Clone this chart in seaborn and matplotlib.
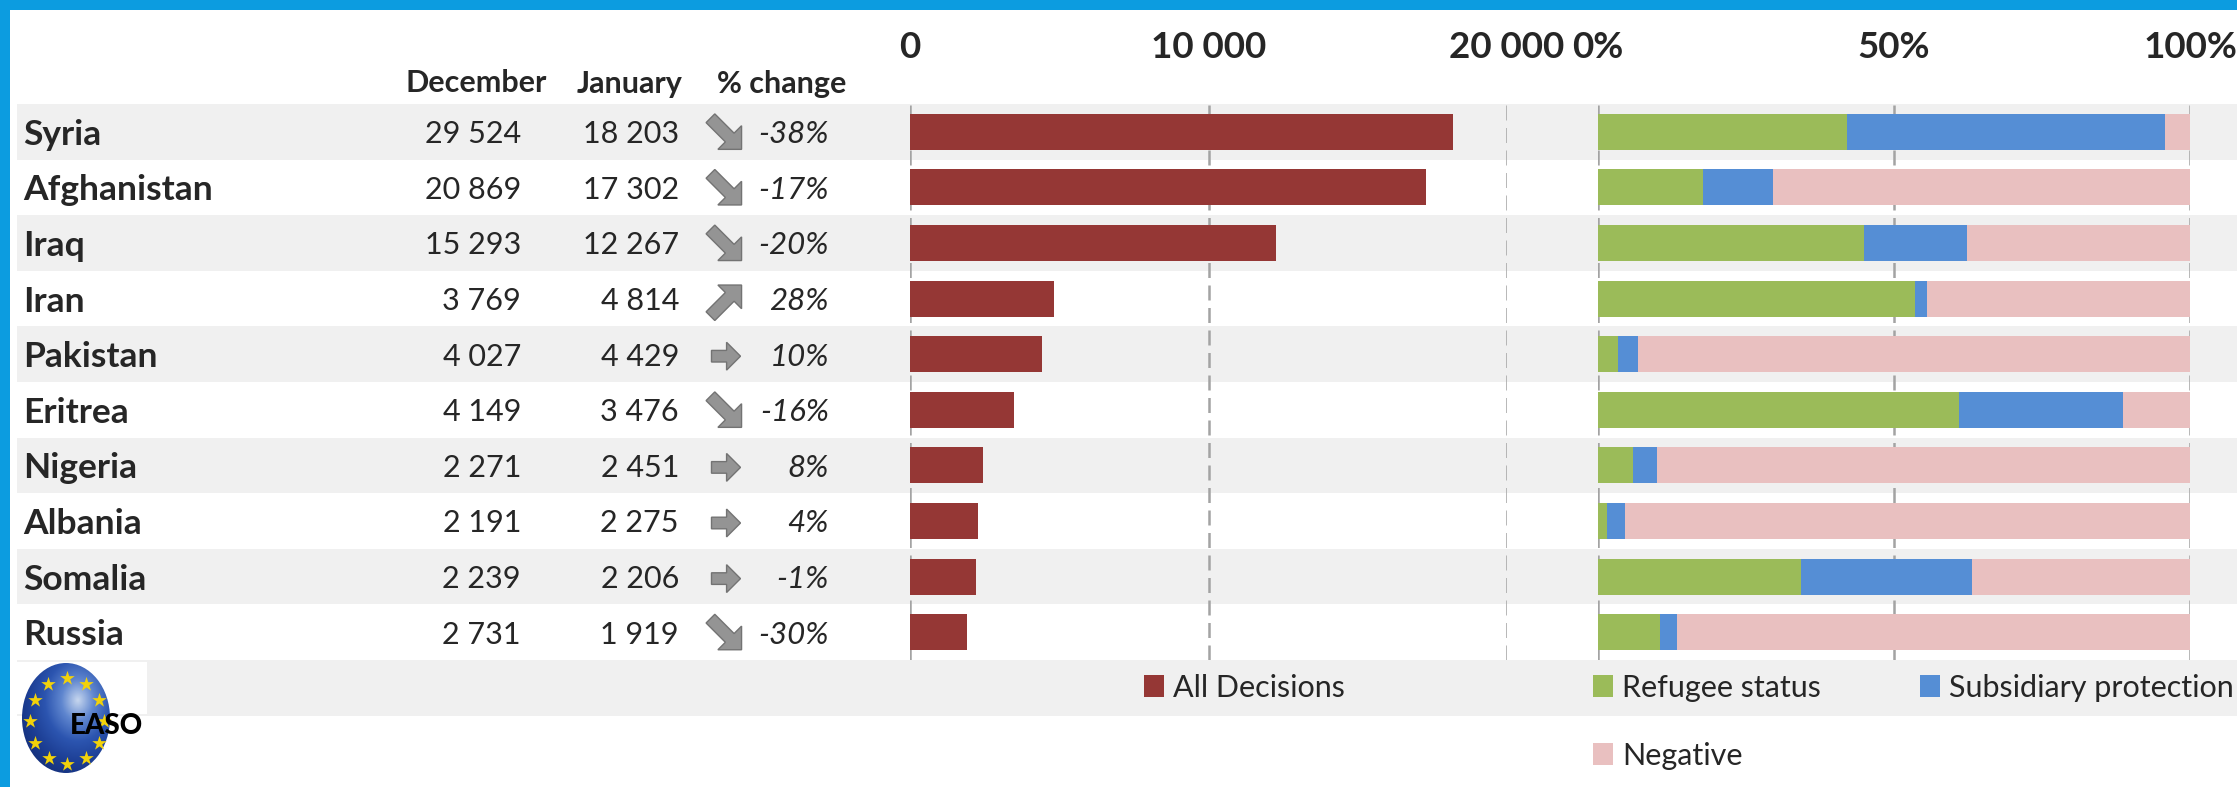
import matplotlib
matplotlib.use("Agg")
import matplotlib.pyplot as plt
from matplotlib import font_manager
from matplotlib.colors import LinearSegmentedColormap
from matplotlib.patches import Ellipse, Polygon, Rectangle
import numpy as np
import seaborn as sns

countries = ["Syria", "Afghanistan", "Iraq", "Iran", "Pakistan",
             "Eritrea", "Nigeria", "Albania", "Somalia", "Russia"]
december = [29524, 20869, 15293, 3769, 4027, 4149, 2271, 2191, 2239, 2731]
january = [18203, 17302, 12267, 4814, 4429, 3476, 2451, 2275, 2206, 1919]
pct_change = [-38, -17, -20, 28, 10, -16, 8, 4, -1, -30]

# share of decisions (%)
refugee = [42.1, 17.8, 44.9, 53.5, 3.4, 60.9, 5.9, 1.6, 34.3, 10.5]
subsidiary = [53.7, 11.8, 17.4, 2.1, 3.3, 27.8, 4.1, 2.9, 28.9, 2.9]
negative = [4.2, 70.4, 37.7, 44.4, 93.3, 11.3, 90.0, 95.5, 36.8, 86.6]

left_ticks = [0, 10000, 20000]
left_tick_labels = ["0", "10 000", "20 000"]
right_ticks = [0, 50, 100]
right_tick_labels = ["0%", "50%", "100%"]

RED = "#953735"
GREEN = "#9bbb59"
BLUE = "#558ed5"
PINK = "#e9c0c0"
BAND = "#f0f0f0"
GRID = "#a3a3a3"
FRAME = "#0c9ce0"

sns.set_style("white")
available = {f.name for f in font_manager.fontManager.ttflist}
main_font = "Lato" if "Lato" in available else "DejaVu Sans"
plt.rcParams["font.family"] = [main_font, "DejaVu Sans"]

W, H = 2237, 787
ROW_TOP, ROW_H = 104, 55.6
n = len(countries)
rows_bottom = ROW_TOP + n * ROW_H


def fx(px):
    return px / W


def fy(py):
    return 1 - py / H


def trend_arrow(ax, xc, yc, pct):
    # excel-like block arrow icon, built pointing right then rotated
    if pct <= -15 or pct >= 15:
        shape = np.array([[-0.5, -0.14], [0.12, -0.14], [0.12, -0.38], [0.5, 0],
                          [0.12, 0.38], [0.12, 0.14], [-0.5, 0.14]]) * 44
        ang = np.deg2rad(45 if pct < 0 else -45)
    else:
        shape = np.array([[-0.5, -0.2], [0.02, -0.2], [0.02, -0.48], [0.5, 0],
                          [0.02, 0.48], [0.02, 0.2], [-0.5, 0.2]]) * 29
        ang = 0.0
    rot = np.array([[np.cos(ang), -np.sin(ang)], [np.sin(ang), np.cos(ang)]])
    pts = shape @ rot.T + [xc, yc]
    ax.add_patch(Polygon(pts, closed=True, facecolor="#949494",
                         edgecolor="#737373", lw=1.0, joinstyle="miter"))


fig = plt.figure(figsize=(W / 100, H / 100), dpi=100)

# background layer in pixel coordinates: frame, row bands, table text
bg = fig.add_axes([0, 0, 1, 1], zorder=0)
bg.set_xlim(0, W)
bg.set_ylim(H, 0)
bg.axis("off")

for i in range(0, n + 1, 2):
    y0 = ROW_TOP + i * ROW_H
    bg.add_patch(Rectangle((17, y0), W - 17, ROW_H, color=BAND, lw=0))
bg.add_patch(Rectangle((0, 0), W, 10, color=FRAME, lw=0))
bg.add_patch(Rectangle((0, 0), 10, H, color=FRAME, lw=0))

header_y = 81
bg.text(476, header_y, "December", ha="center", va="center_baseline",
        fontsize=22, fontweight="bold")
bg.text(630, header_y, "January", ha="center", va="center_baseline",
        fontsize=22, fontweight="bold")
bg.text(782, header_y, "% change", ha="center", va="center_baseline",
        fontsize=22, fontweight="bold")

for i, name in enumerate(countries):
    yc = ROW_TOP + (i + 0.5) * ROW_H
    bg.text(23, yc, name, ha="left", va="center_baseline",
            fontsize=25.5, fontweight="bold")
    bg.text(521, yc, f"{december[i]:,}".replace(",", " "), ha="right",
            va="center_baseline", fontsize=22)
    bg.text(679, yc, f"{january[i]:,}".replace(",", " "), ha="right",
            va="center_baseline", fontsize=22)
    trend_arrow(bg, 726, yc + 2, pct_change[i])
    bg.text(829, yc, f"{pct_change[i]}%", ha="right", va="center_baseline",
            fontsize=22.5, style="italic")

# EASO logo
bg.add_patch(Rectangle((17, rows_bottom + 2), 130, 52, color="white", lw=0))
cx, cy, ew, eh = 66, 718, 88, 110
sphere = Ellipse((cx, cy), ew, eh, facecolor="none", lw=0)
bg.add_patch(sphere)
gx, gy = np.meshgrid(np.linspace(cx - ew / 2, cx + ew / 2, 120),
                     np.linspace(cy - eh / 2, cy + eh / 2, 150))
dist = np.hypot((gx - 78) / ew, (gy - 700) / eh)
sphere_cmap = LinearSegmentedColormap.from_list(
    "sphere", ["#c6d6ee", "#5f86cf", "#2c55b0", "#1d3f95", "#142f7a"])
img = bg.imshow(dist, cmap=sphere_cmap, vmin=0, vmax=0.75,
                extent=(cx - ew / 2, cx + ew / 2, cy + eh / 2, cy - eh / 2),
                interpolation="bilinear", zorder=2)
img.set_clip_path(sphere)
bg.set_xlim(0, W)
bg.set_ylim(H, 0)
bg.set_aspect("auto")
ang = np.deg2rad(np.arange(0, 360, 30))
bg.scatter(67 + 37 * np.sin(ang), 721 - 43 * np.cos(ang), marker="*", s=120,
           color="#f2d20a", lw=0, zorder=3)
bg.text(107, 724, "EASO", ha="center", va="center_baseline", fontsize=20,
        fontweight="black", color="black", zorder=4)

# left chart: all decisions in January
ax_l = fig.add_axes([fx(910), fy(rows_bottom), (1507 - 910) / W, n * ROW_H / H], zorder=1)
ax_l.patch.set_alpha(0)
sns.barplot(x=january, y=countries, orient="h", color=RED, width=0.65,
            linewidth=0, saturation=1, errorbar=None, ax=ax_l)
ax_l.set_xlim(0, 20000)
ax_l.set_xticks(left_ticks)
ax_l.set_xticklabels(left_tick_labels)

# right chart: stacked shares
ax_r = fig.add_axes([fx(1598), fy(rows_bottom), (2190 - 1598) / W, n * ROW_H / H], zorder=1)
ax_r.patch.set_alpha(0)
stack_all = np.array(refugee) + np.array(subsidiary) + np.array(negative)
stack_rs = np.array(refugee) + np.array(subsidiary)
sns.barplot(x=stack_all, y=countries, orient="h", color=PINK, width=0.65,
            linewidth=0, saturation=1, errorbar=None, ax=ax_r)
sns.barplot(x=stack_rs, y=countries, orient="h", color=BLUE, width=0.65,
            linewidth=0, saturation=1, errorbar=None, ax=ax_r)
sns.barplot(x=refugee, y=countries, orient="h", color=GREEN, width=0.65,
            linewidth=0, saturation=1, errorbar=None, ax=ax_r)
ax_r.set_xlim(0, 100)
ax_r.set_xticks(right_ticks)
ax_r.set_xticklabels(right_tick_labels)

for ax in (ax_l, ax_r):
    ax.set_ylim(n - 0.5, -0.5)
    ax.set_xlabel("")
    ax.set_ylabel("")
    ax.xaxis.tick_top()
    ax.tick_params(axis="x", length=0, pad=29, labelsize=26.5)
    for lab in ax.get_xticklabels():
        lab.set_fontweight("bold")
    ax.tick_params(axis="y", left=False, labelleft=False)
    ax.set_axisbelow(True)
    ax.grid(axis="x", color=GRID, linestyle=(0, (6, 3)), linewidth=1.8)
    ax.grid(axis="y", visible=False)
    sns.despine(ax=ax, left=True, bottom=True)

# legends
leg_kw = dict(frameon=False, fontsize=22, handlelength=0.65, handleheight=0.72,
              handletextpad=0.3, borderpad=0, borderaxespad=0, loc="center left")
entries = [
    (ax_l.containers[0], "All Decisions", 1144, 688),
    (ax_r.containers[2], "Refugee status", 1593, 688),
    (ax_r.containers[1], "Subsidiary protection", 1920, 688),
    (ax_r.containers[0], "Negative", 1593, 756),
]
for handle, label, px, py in entries:
    fig.legend(handles=[handle], labels=[label],
               bbox_to_anchor=(fx(px), fy(py)), **leg_kw)

fig.savefig("out.png", dpi=100)
